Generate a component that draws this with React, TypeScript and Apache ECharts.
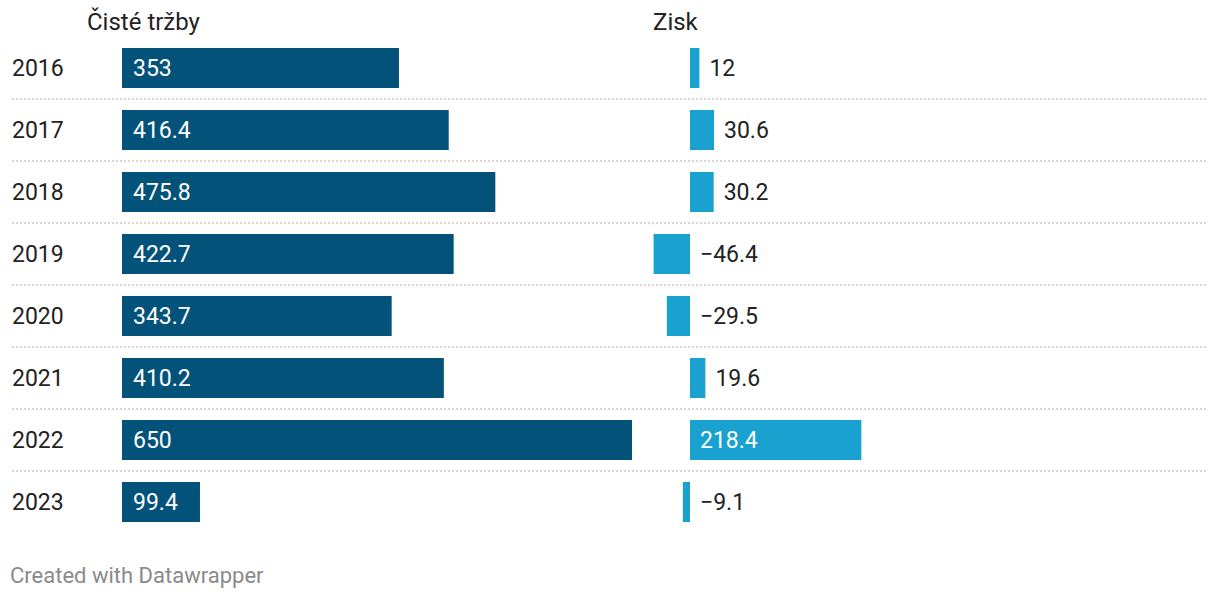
import React, { useEffect, useRef } from "react";
import * as echarts from "echarts";

const years = ["2016", "2017", "2018", "2019", "2020", "2021", "2022", "2023"];
const revenue = [353, 416.4, 475.8, 422.7, 343.7, 410.2, 650, 99.4];
const profit = [12, 30.6, 30.2, -46.4, -29.5, 19.6, 218.4, -9.1];
const headers = ["Čisté tržby", "Zisk"];
const footer = "Created with Datawrapper";

const DARK = "#03527a";
const LIGHT = "#19a2cf";
const FONT = "Roboto";

export default function App() {
  const ref = useRef<HTMLDivElement>(null);
  useEffect(() => {
    document.body.style.margin = "0";
    const chart = echarts.init(ref.current!, null, { renderer: "svg" });
    const scale = 510 / 650;
    const rMin = -50;
    const rMax = 300;
    const rowTop = 37;
    const rowH = 496;
    const fmt = (v: number) => (v < 0 ? "\u2212" + Math.abs(v) : String(v));
    chart.setOption({
      animation: false,
      textStyle: { fontFamily: FONT },
      title: [
        { text: headers[0], left: 87, top: 10, padding: 0, textStyle: { fontSize: 24, fontWeight: "normal", color: "#222", fontFamily: FONT } },
        { text: headers[1], left: 653, top: 10, padding: 0, textStyle: { fontSize: 24, fontWeight: "normal", color: "#222", fontFamily: FONT } },
        { text: footer, left: 10, top: 564, padding: 0, textStyle: { fontSize: 22, fontWeight: "normal", color: "#8a8a8a", fontFamily: FONT } },
      ],
      grid: [
        { left: 122, width: 510, top: rowTop, height: rowH },
        { left: 690 + rMin * scale, width: (rMax - rMin) * scale, top: rowTop, height: rowH },
        { left: 12, width: 1196, top: rowTop, height: rowH },
      ],
      xAxis: [
        { gridIndex: 0, type: "value", min: 0, max: 650, show: false },
        { gridIndex: 1, type: "value", min: rMin, max: rMax, show: false },
        { gridIndex: 2, type: "value", min: 0, max: 1, show: false },
      ],
      yAxis: [
        {
          gridIndex: 0,
          type: "category",
          data: years,
          inverse: true,
          axisLine: { show: false },
          axisTick: { show: false },
          axisLabel: { align: "left", margin: 110, fontSize: 23, color: "#222", fontFamily: FONT },
        },
        {
          gridIndex: 1,
          type: "category",
          data: years,
          inverse: true,
          show: false,
        },
        {
          gridIndex: 2,
          type: "value",
          min: 0,
          max: years.length,
          interval: 1,
          inverse: true,
          axisLine: { show: false },
          axisTick: { show: false },
          axisLabel: { show: false },
          splitLine: {
            show: true,
            showMinLine: false,
            showMaxLine: false,
            lineStyle: { color: "#d6d6d6", width: 2, type: [2, 2] },
          },
        },
      ],
      series: [
        {
          type: "bar",
          xAxisIndex: 0,
          yAxisIndex: 0,
          data: revenue,
          barWidth: 40,
          itemStyle: { color: DARK },
          label: {
            show: true,
            position: "insideLeft",
            distance: 11,
            color: "#fff",
            fontSize: 23,
            fontFamily: FONT,
            formatter: (p: any) => fmt(p.value),
          },
        },
        {
          type: "bar",
          xAxisIndex: 1,
          yAxisIndex: 1,
          barWidth: 40,
          itemStyle: { color: LIGHT },
          data: profit.map((v) => ({
            value: v,
            label:
              v > 100
                ? { position: "insideLeft", color: "#fff" }
                : { position: "right", color: "#222" },
          })),
          label: {
            show: true,
            distance: 10,
            fontSize: 23,
            fontFamily: FONT,
            formatter: (p: any) => fmt(p.value),
          },
        },
      ],
    });
    return () => chart.dispose();
  }, []);
  return <div ref={ref} style={{ width: 1220, height: 598 }} />;
}
